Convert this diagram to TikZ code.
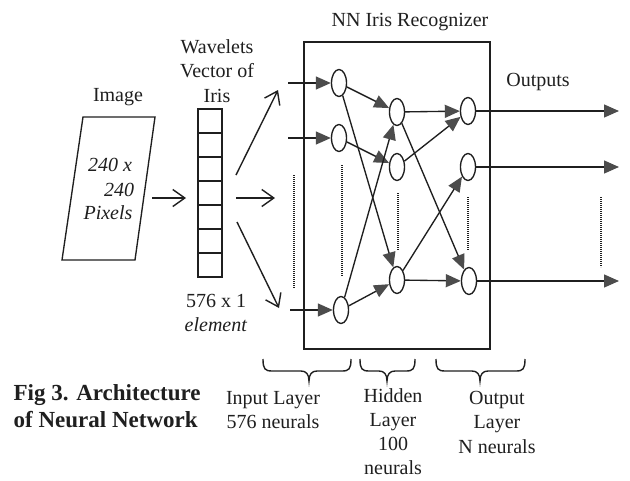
\documentclass[tikz,border=0pt]{standalone}
\usepackage{fontspec}
\setmainfont{Liberation Serif}
\usetikzlibrary{shapes.geometric,arrows.meta}
\definecolor{ink}{gray}{0.12}
\definecolor{tipgray}{gray}{0.30}
\begin{document}
\begin{tikzpicture}[x=1pt,y=-1pt,
  line width=1.35pt, draw=ink,
  txt/.style={font=\fontsize{20}{24.5}\selectfont, align=center, inner sep=0pt, text=ink},
  itxt/.style={txt, font=\fontsize{20}{24.5}\selectfont\itshape},
  neuron/.style={draw=ink, ellipse, minimum width=15pt, minimum height=27pt, inner sep=0pt, line width=1.35pt},
  wire/.style={draw=ink, line width=1.35pt, -{Triangle[length=15pt,width=13pt,fill=tipgray,color=tipgray]}},
  openarrow/.style={draw=ink, line width=1.4pt, -{Straight Barb[length=12pt,width=17pt,line width=1.4pt]}},
  dotline/.style={draw=ink, line width=1.3pt, dash pattern=on 0.8pt off 1.2pt},
  layerbrace/.style={draw=ink, line width=1.4pt}]

\useasboundingbox (0,0) rectangle (630,480);
\fill[white] (0,0) rectangle (630,480);

% ---------- input image ----------
\node[txt] (imglabel) at (118,97) {Image};
\draw[ink] (83,117) -- (155,117) -- (135,260) -- (62,260) -- cycle;
\node[itxt] (px1) at (110,165) {240 x};
\node[itxt] (px2) at (119,190) {240};
\node[itxt] (px3) at (108,213) {Pixels};
\coordinate (imgout) at (152,198);
\coordinate (vecin) at (186,198);
\draw[openarrow] (imgout) -- (vecin);

% ---------- wavelet feature vector ----------
\node[txt] (veclabel) at (217,71) {Wavelets\\Vector of\\Iris};
\node[draw=ink, minimum width=24pt, minimum height=168pt, inner sep=0pt] (vec) at (210,193) {};
\foreach \k in {1,...,6}
  \draw[ink] (198,109+24*\k) -- (222,109+24*\k);
\node[txt] (vecsize) at (216,313) {576 x 1\\\textit{element}};

\coordinate (va1) at (236,175);  \coordinate (vb1) at (278,90);
\coordinate (va2) at (236,198);  \coordinate (vb2) at (275,198);
\coordinate (va3) at (237,222);  \coordinate (vb3) at (279,308);
\draw[openarrow] (va1) -- (vb1);
\draw[openarrow] (va2) -- (vb2);
\draw[openarrow] (va3) -- (vb3);

% ---------- recognizer network ----------
\node[txt] (nntitle) at (410,22) {NN Iris Recognizer};
\node[draw=ink, line width=1.4pt, minimum width=186pt, minimum height=307pt, inner sep=0pt] (nn) at (397,195.5) {};

\node[neuron] (i1) at (339,83) {};
\node[neuron] (i2) at (339,138) {};
\node[neuron] (i3) at (341,310) {};
\node[neuron] (h1) at (397,112) {};
\node[neuron] (h2) at (397,167) {};
\node[neuron] (h3) at (397,280) {};
\node[neuron] (o1) at (468,111) {};
\node[neuron] (o2) at (468,167) {};
\node[neuron] (o3) at (469,281) {};

\coordinate (in1) at (288,83);
\coordinate (in2) at (288,138);
\coordinate (in3) at (290,310);
\draw[wire] (in1) -- (i1);
\draw[wire] (in2) -- (i2);
\draw[wire] (in3) -- (i3);

\draw[wire] (i1) -- (h1);
\draw[wire] (i1) -- (h3);
\draw[wire] (i2) -- (h2);
\draw[wire] (i3) -- (h1);
\draw[wire] (i3) -- (h3);
\draw[wire] (h1) -- (o1);
\draw[wire] (h1) -- (o3);
\draw[wire] (h2) -- (o1);
\draw[wire] (h3) -- (o2);
\draw[wire] (h3) -- (o3);

\coordinate (out1) at (619,111);
\coordinate (out2) at (619,167);
\coordinate (out3) at (619,281);
\draw[wire] (o1) -- (out1);
\draw[wire] (o2) -- (out2);
\draw[wire] (o3) -- (out3);
\node[txt] (outlabel) at (538,82) {Outputs};

% omitted units in each column
\draw[dotline] (294,175) -- (294,288);
\draw[dotline] (342,165) -- (342,276);
\draw[dotline] (398,193) -- (398,250);
\draw[dotline] (468,197) -- (468,250);
\draw[dotline] (601,197) -- (601,267);

% ---------- layer braces: left end, tip x, right end ----------
\foreach \a/\m/\b in {263/309/351, 360/387/415, 436/480/525} {
  \draw[layerbrace]
    (\a,359) .. controls (\a,369) and (\a+2,371) .. (\a+9,371)
    -- (\m-8,371) .. controls (\m-3,371) and (\m,374) .. (\m,381)
    .. controls (\m,374) and (\m+3,371) .. (\m+8,371)
    -- (\b-9,371) .. controls (\b-2,371) and (\b,369) .. (\b,359);
}

\node[txt] (inlayer) at (273,410) {Input Layer\\576 neurals};
\node[txt, font=\fontsize{20}{24}\selectfont] (hidlayer) at (393,432) {Hidden\\Layer\\100\\neurals};
\node[txt] (outlayer) at (497,422) {Output\\Layer\\N neurals};

% ---------- caption ----------
\node[txt, anchor=west, align=left, font=\fontsize{23}{27}\selectfont\bfseries] (caption) at (13,406)
  {Fig 3. Architecture\\of Neural Network};
\end{tikzpicture}
\end{document}
